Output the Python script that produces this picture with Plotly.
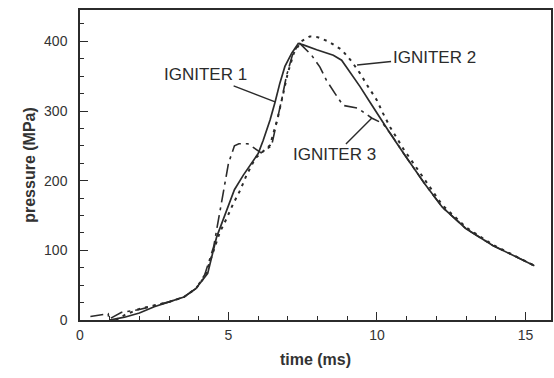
import plotly.graph_objects as go

# IGNITER 1 (solid)
t1 = [1.0, 1.5, 2.0, 2.5, 3.0, 3.5, 3.9, 4.3, 4.6, 4.95, 5.2, 5.5, 5.78, 6.0, 6.17, 6.28, 6.4, 6.57,
      6.73, 6.9, 7.13, 7.35, 7.52, 7.97, 8.53, 8.81, 9.09, 9.43, 9.76, 10.1, 10.44, 10.9, 11.6,
      12.2, 13.0, 13.9, 14.6, 15.3]
p1 = [0, 4, 10, 19, 26, 33, 45, 67, 119, 160, 187, 208, 225, 239, 258, 272, 287, 313,
      340, 364, 383, 397, 395, 388, 380, 373, 356, 335, 313, 290, 268, 239, 196,
      162, 131, 107, 93, 78]

# IGNITER 2 (dotted)
t2 = [1.2, 1.5, 2.0, 2.5, 3.0, 3.5, 3.9, 4.2, 4.45, 4.71, 4.94, 5.16, 5.39, 5.61, 5.9, 6.4,
      6.67, 6.8, 7.0, 7.2, 7.45, 7.74, 8.0, 8.36, 8.81, 9.15, 9.43, 9.7, 9.99, 10.2, 10.44,
      10.9, 11.6, 12.2, 13.0, 13.9, 14.6, 15.3]
p2 = [0, 7, 16, 21, 26, 33, 45, 62, 95, 126, 146, 167, 186, 208, 232, 251,
      292, 316, 355, 383, 400, 407, 406, 400, 388, 371, 354, 335, 316, 297, 277,
      245, 201, 165, 133, 108, 93, 78]

# IGNITER 3 (dash-dot)
t3 = [0.35, 0.95, 0.97, 1.4, 2.0, 2.5, 3.0, 3.5, 3.9, 4.2, 4.5, 4.75, 5.0, 5.2, 5.35, 5.65,
      6.1, 6.45, 6.6, 6.8, 6.95, 7.15, 7.38, 7.6, 7.8, 8.08, 8.3, 8.59, 8.86, 9.36, 9.82,
      10.2, 10.5, 10.9, 11.6, 12.2, 13.0, 13.9, 14.6, 15.3]
p3 = [5, 9, 1, 11, 15, 20, 26, 33, 45, 65, 105, 165, 225, 250, 253, 253,
      240, 250, 278, 318, 350, 380, 398, 388, 380, 363, 344, 325, 308, 304, 290,
      282, 265, 239, 196, 162, 131, 107, 93, 78]

labels = ["IGNITER 1", "IGNITER 2", "IGNITER 3"]

ink = "#2b2b2b"
fig = go.Figure()
fig.add_trace(go.Scatter(x=t1, y=p1, mode="lines", name=labels[0],
                         line=dict(color=ink, width=1.7)))
fig.add_trace(go.Scatter(x=t2, y=p2, mode="lines", name=labels[1],
                         line=dict(color=ink, width=2, dash="3px,5px")))
fig.add_trace(go.Scatter(x=t3, y=p3, mode="lines", name=labels[2],
                         line=dict(color=ink, width=1.6, dash="13px,5px,3px,5px")))

afont = dict(family="Liberation Sans, Arial, sans-serif", size=17, color=ink)
ann = [
    dict(x=6.57, y=313, text=labels[0], ax=-70, ay=-27),
    dict(x=9.33, y=366, text=labels[1], ax=77, ay=-8),
    dict(x=9.83, y=290, text=labels[2], ax=-37, ay=37),
]
for a in ann:
    fig.add_annotation(xref="x", yref="y", showarrow=True, arrowhead=0, arrowwidth=1.4,
                       arrowcolor=ink, font=afont, **a)

tfont = dict(family="Liberation Sans, Arial, sans-serif", size=14, color="#333")
fig.update_xaxes(range=[0, 15.86], dtick=5, tick0=0, ticks="inside", ticklen=8, tickwidth=1.3,
                 tickcolor=ink, showline=True, linecolor=ink, linewidth=1.5, mirror=True,
                 showgrid=False, zeroline=False, tickfont=tfont, ticklabelstandoff=1,
                 automargin=False,
                 minor=dict(dtick=1, ticks="inside", ticklen=4, tickcolor=ink, showgrid=False),
                 title=dict(text="<b>time (ms)</b>", font=dict(family="Liberation Sans, Arial", size=16, color="#333"),
                            standoff=12))
fig.update_yaxes(range=[0, 445], dtick=100, tick0=0, ticks="inside", ticklen=8, tickwidth=1.3,
                 tickcolor=ink, showline=True, linecolor=ink, linewidth=1.5, mirror=True,
                 showgrid=False, zeroline=False, tickfont=tfont, ticklabelstandoff=8,
                 automargin=False,
                 minor=dict(dtick=25, ticks="inside", ticklen=4, tickcolor=ink, showgrid=False),
                 title=dict(text="<b>pressure (MPa)</b>", font=dict(family="Liberation Sans, Arial", size=16, color="#333"),
                            standoff=4))
fig.update_layout(width=554, height=378, margin=dict(l=80, r=3, t=10, b=58),
                  paper_bgcolor="white", plot_bgcolor="white", showlegend=False)

post = ("document.body.style.margin='0';document.body.style.overflow='hidden';"
        "Plotly.relayout('{plot_id}', {width:554, height:378});")
fig.write_html("out.html", config={"responsive": False, "displayModeBar": False}, post_script=post)
